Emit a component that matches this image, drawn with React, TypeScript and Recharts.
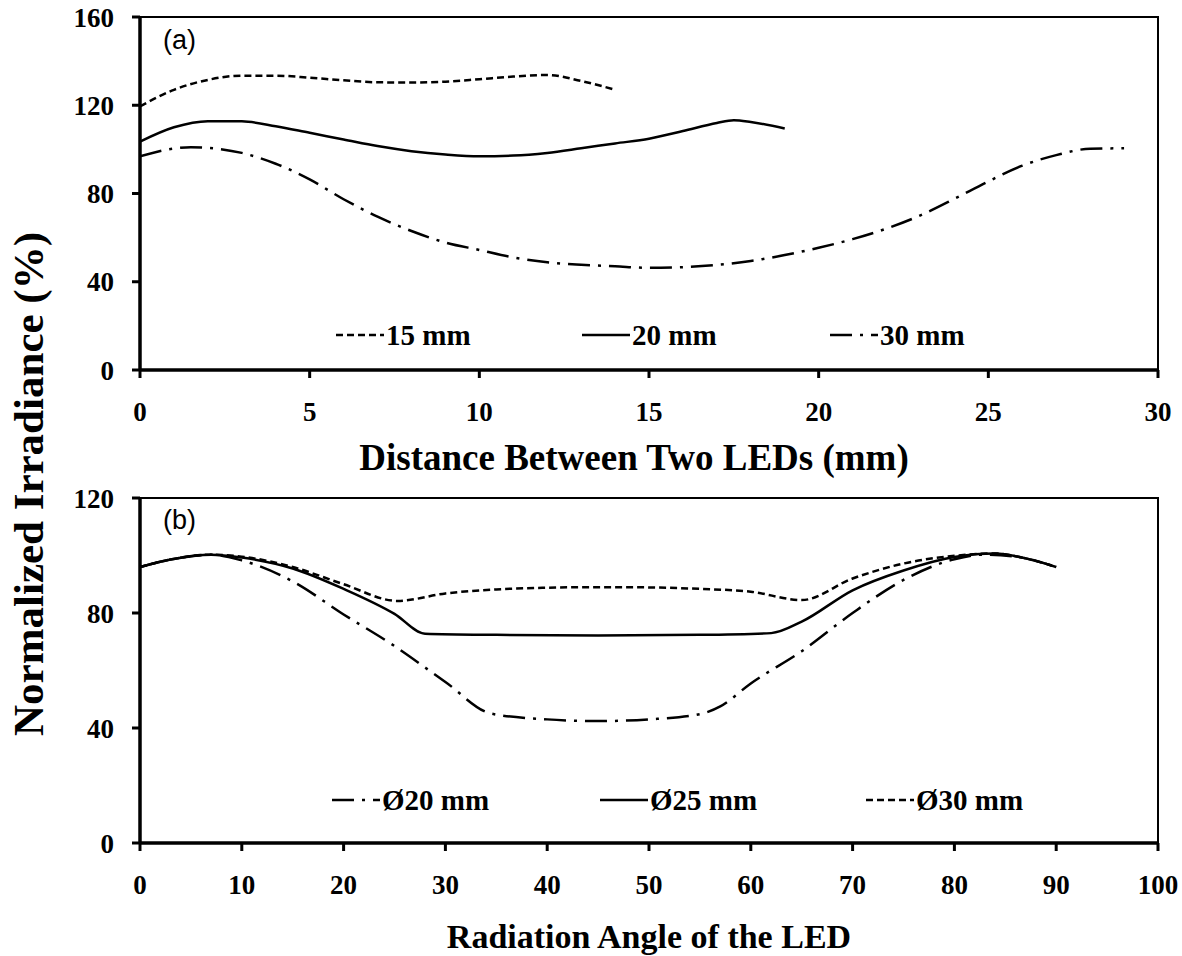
import React from 'react';
import { LineChart, Line, XAxis, YAxis, Legend, ReferenceArea, Label } from 'recharts';

// ---------- Panel (a): Distance between two LEDs ----------
const distX15 = [0, 1, 2, 3, 4, 5, 6, 7, 8, 9, 10, 11, 12, 13, 14];
const irr15 = [119.5, 127, 131.5, 133.4, 133.4, 132.5, 131.3, 130.4, 130.3, 130.7, 131.8, 133, 133.7, 131, 127];

const distX20 = [0, 1, 2, 3, 4, 5, 6, 7, 8, 9, 10, 11, 12, 13, 14, 15, 16, 17, 17.5, 18, 19];
const irr20 = [103.5, 110, 112.8, 112.7, 110.5, 107.5, 104.5, 101.5, 99.2, 97.7, 96.9, 97.2, 98.4, 100.5, 102.7, 104.8, 108.3, 112, 113.2, 112.4, 109.5];

const distX30 = [0, 1, 1.5, 2, 3, 4, 5, 6, 7, 8, 9, 10, 11, 12, 13, 14, 15, 16, 17, 18, 19, 20, 21, 22, 23, 24, 25, 26, 27, 28, 29];
const irr30 = [96.9, 100.4, 101, 100.7, 98.4, 93.5, 86.4, 77.4, 69.5, 63, 57.8, 54.4, 51, 48.8, 47.7, 47, 46.3, 46.6, 47.6, 49.4, 52.1, 55.4, 59.3, 64.1, 70.1, 77.6, 85.5, 92.6, 97.4, 100.3, 100.5];

const topXTicks = [0, 5, 10, 15, 20, 25, 30];
const topYTicks = [0, 40, 80, 120, 160];

// ---------- Panel (b): Radiation angle of the LED ----------
const angX20 = [0, 3, 7, 10, 15, 20, 25, 30, 34.5, 40, 45, 50, 55, 57, 60, 65, 70, 75, 80, 83, 87, 90];
const irrD20 = [96, 98.6, 100.3, 98.3, 91, 79.5, 68.5, 56, 45, 43, 42.4, 43, 44.8, 47.5, 55.5, 66.7, 80, 91.5, 98.7, 100.3, 99, 96];

const angX25 = [0, 3, 7, 10, 15, 20, 25, 28, 35, 45, 55, 62, 65, 70, 75, 80, 84, 87, 90];
const irrD25 = [96, 98.6, 100.3, 99.3, 95.5, 88.4, 79.7, 72.8, 72.4, 72.2, 72.4, 73, 77, 87.9, 94.8, 99.5, 100.7, 99, 96];

const angX30 = [0, 3, 7, 10, 15, 20, 25.3, 30, 35, 40, 45, 50, 55, 60, 65, 70, 75, 80, 84, 87, 90];
const irrD30 = [96, 98.6, 100.3, 99.6, 96, 90, 84.2, 86.8, 88.2, 88.8, 89, 88.9, 88.4, 87.4, 84.5, 92, 97.2, 99.9, 100.7, 99, 96];

const botXTicks = [0, 10, 20, 30, 40, 50, 60, 70, 80, 90, 100];
const botYTicks = [0, 40, 80, 120];

// ---------- styling ----------
const SERIF = '"Times New Roman", "Liberation Serif", Times, "DejaVu Serif", serif';
const SANS = '"Liberation Sans", Arial, sans-serif';
const DASH = '7 4';
const DASHDOT = '22 8 3 8';

type Pt = { x: number; y: number };
type SeriesDef = { name: string; data: Pt[]; dash?: string };

const pairs = (xs: number[], ys: number[]): Pt[] => xs.map((x, i) => ({ x, y: ys[i] }));

const topSeries: SeriesDef[] = [
  { name: '15 mm', data: pairs(distX15, irr15), dash: DASH },
  { name: '20 mm', data: pairs(distX20, irr20) },
  { name: '30 mm', data: pairs(distX30, irr30), dash: DASHDOT },
];

const bottomSeries: SeriesDef[] = [
  { name: 'Ø20 mm', data: pairs(angX20, irrD20), dash: DASHDOT },
  { name: 'Ø25 mm', data: pairs(angX25, irrD25) },
  { name: 'Ø30 mm', data: pairs(angX30, irrD30), dash: DASH },
];

const tickStyle = { fontSize: 27, fontFamily: SERIF, fontWeight: 'bold', fill: '#000' } as const;

function LegendRow({ series, starts }: { series: SeriesDef[]; starts: number[] }) {
  return (
    <svg width={1182} height={44} style={{ display: 'block', overflow: 'visible' }}>
      {series.map((s, i) => (
        <g key={s.name}>
          <line
            x1={starts[i]}
            x2={starts[i] + 48}
            y1={22}
            y2={22}
            stroke="#000"
            strokeWidth={2.5}
            strokeDasharray={s.dash}
          />
          <text
            x={starts[i] + 50}
            y={22}
            dy="0.35em"
            style={{ fontFamily: SERIF, fontWeight: 'bold', fontSize: 29 }}
            fill="#000"
          >
            {s.name}
          </text>
        </g>
      ))}
    </svg>
  );
}

function Panel(props: {
  height: number;
  top: number;
  xAxisHeight: number;
  xDomain: [number, number];
  yDomain: [number, number];
  xTicks: number[];
  yTicks: number[];
  series: SeriesDef[];
  legendTop: number;
  legendStarts: number[];
  title: string;
  titleOffset: number;
  titleSize: number;
  titleDx: number;
}) {
  const {
    height, top, xAxisHeight, xDomain, yDomain, xTicks, yTicks, series,
    legendTop, legendStarts, title, titleOffset, titleSize, titleDx,
  } = props;
  return (
    <LineChart width={1182} height={height} margin={{ top, right: 24, bottom: 0, left: 0 }} style={{ fontFamily: SERIF }}>
      <XAxis
        type="number"
        dataKey="x"
        domain={xDomain}
        ticks={xTicks}
        interval={0}
        allowDataOverflow
        height={xAxisHeight}
        tickSize={8}
        tickMargin={24}
        tick={tickStyle}
        axisLine={{ stroke: '#000', strokeWidth: 3.5 }}
        tickLine={{ stroke: '#000', strokeWidth: 3 }}
      >
        <Label
          value={title}
          position="insideBottom"
          offset={titleOffset}
          dx={titleDx}
          style={{ fontFamily: SERIF, fontWeight: 'bold', fontSize: titleSize }}
          fill="#000"
        />
      </XAxis>
      <YAxis
        type="number"
        domain={yDomain}
        ticks={yTicks}
        interval={0}
        allowDataOverflow
        width={140}
        tickSize={8}
        tickMargin={18}
        tick={tickStyle}
        axisLine={{ stroke: '#000', strokeWidth: 3.5 }}
        tickLine={{ stroke: '#000', strokeWidth: 3 }}
      />
      <ReferenceArea
        x1={xDomain[0]}
        x2={xDomain[1]}
        y1={yDomain[0]}
        y2={yDomain[1]}
        fill="none"
        fillOpacity={0}
        stroke="#000"
        strokeWidth={2}
      />
      {series.map((s) => (
        <Line
          key={s.name}
          name={s.name}
          data={s.data}
          dataKey="y"
          type="monotone"
          stroke="#000"
          strokeWidth={2.5}
          strokeDasharray={s.dash}
          dot={false}
          activeDot={false}
          isAnimationActive={false}
        />
      ))}
      <Legend
        layout="horizontal"
        verticalAlign="middle"
        align="center"
        wrapperStyle={{ left: 0, top: legendTop, width: 1182 }}
        content={() => <LegendRow series={series} starts={legendStarts} />}
      />
    </LineChart>
  );
}

export default function App() {
  return (
    <div style={{ position: 'absolute', left: 0, top: 0, width: 1182, height: 956, background: '#fff' }}>
      <div style={{ position: 'absolute', left: 0, top: 0 }}>
        <Panel
          height={480}
          top={17}
          xAxisHeight={110}
          xDomain={[0, 30]}
          yDomain={[0, 160]}
          xTicks={topXTicks}
          yTicks={topYTicks}
          series={topSeries}
          legendTop={313}
          legendStarts={[336, 582, 830]}
          title="Distance Between Two LEDs (mm)"
          titleOffset={10}
          titleSize={37}
          titleDx={-15}
        />
      </div>
      <div style={{ position: 'absolute', left: 0, top: 480 }}>
        <Panel
          height={476}
          top={18}
          xAxisHeight={113}
          xDomain={[0, 100]}
          yDomain={[0, 120]}
          xTicks={botXTicks}
          yTicks={botYTicks}
          series={bottomSeries}
          legendTop={298}
          legendStarts={[332, 600, 866]}
          title="Radiation Angle of the LED"
          titleOffset={8}
          titleSize={34}
          titleDx={0}
        />
      </div>
      <div style={{ position: 'absolute', left: 163, top: 27, fontFamily: SANS, fontSize: 27, lineHeight: 1, color: '#000' }}>(a)</div>
      <div style={{ position: 'absolute', left: 163, top: 507, fontFamily: SANS, fontSize: 27, lineHeight: 1, color: '#000' }}>(b)</div>
      <div
        style={{
          position: 'absolute',
          left: 28,
          top: 484,
          transform: 'translate(-50%, -50%) rotate(-90deg)',
          whiteSpace: 'nowrap',
          fontFamily: SERIF,
          fontWeight: 'bold',
          fontSize: 43,
          lineHeight: 1,
          color: '#000',
        }}
      >
        Normalized Irradiance (%)
      </div>
    </div>
  );
}
